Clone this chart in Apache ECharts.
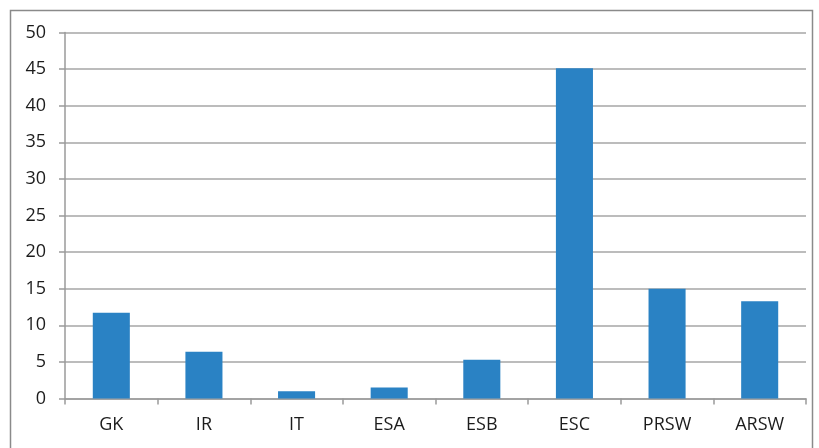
<!DOCTYPE html>
<html>
<head>
<meta charset="utf-8">
<script src="https://cdn.jsdelivr.net/npm/echarts@6/dist/echarts.min.js"></script>
<style>
  html, body { margin: 0; padding: 0; background: #fff; }
  #chart { width: 819px; height: 448px; }
</style>
</head>
<body>
<div id="chart"></div>
<script>
// Categories and values of the bar chart
const categories = ['GK', 'IR', 'IT', 'ESA', 'ESB', 'ESC', 'PRSW', 'ARSW'];
const values = [11.7, 6.4, 1.0, 1.5, 5.3, 45.1, 15.0, 13.3];
const yTicks = { min: 0, max: 50, interval: 5 };

const chart = echarts.init(document.getElementById('chart'), null, { renderer: 'canvas' });
const labelFont = { fontFamily: 'Open Sans, Liberation Sans, sans-serif', fontSize: 18, color: '#1c1c1c' };

chart.setOption({
  animation: false,
  backgroundColor: '#fff',
  graphic: [{
    type: 'rect',
    shape: { x: 10.5, y: 10.5, width: 802, height: 450 },
    style: { fill: 'none', stroke: '#8a8a8a', lineWidth: 1.5 },
    silent: true
  }],
  grid: { left: 65, top: 32.5, right: 13, bottom: 49.5 },
  xAxis: {
    type: 'category',
    data: categories,
    axisLine: { lineStyle: { color: '#9a9a9a', width: 1.5 } },
    axisTick: { show: true, length: 6, lineStyle: { color: '#9a9a9a', width: 1.5 } },
    axisLabel: Object.assign({ margin: 17 }, labelFont)
  },
  yAxis: {
    type: 'value',
    min: yTicks.min,
    max: yTicks.max,
    interval: yTicks.interval,
    axisLine: { show: true, lineStyle: { color: '#9a9a9a', width: 1.5 } },
    axisTick: { show: true, length: 6, lineStyle: { color: '#9a9a9a', width: 1.5 } },
    splitLine: { lineStyle: { color: '#a6a6a6', width: 1.5 } },
    axisLabel: Object.assign({ margin: 19 }, labelFont)
  },
  series: [{
    type: 'bar',
    data: values,
    barCategoryGap: '60%',
    itemStyle: { color: '#2a82c4' }
  }]
});
</script>
</body>
</html>
